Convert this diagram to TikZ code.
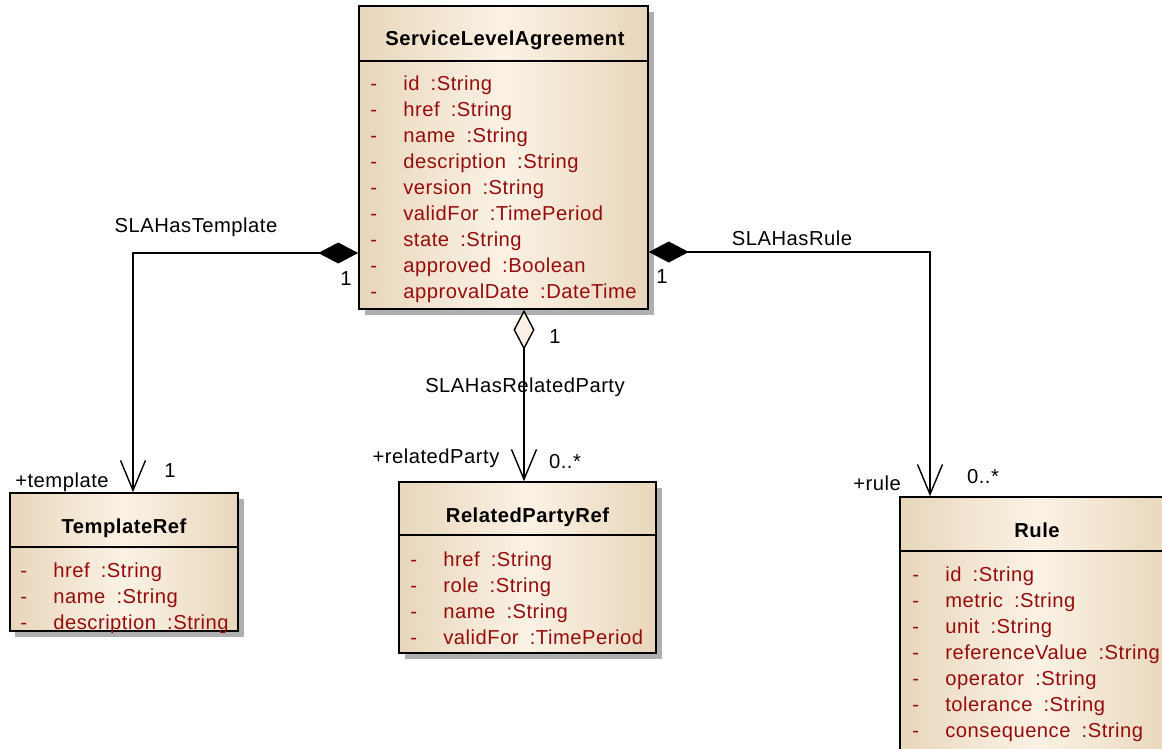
\documentclass[tikz,border=0pt]{standalone}
\usepackage{fontspec}
\setmainfont{Liberation Sans}[LetterSpace=2.5]
\usepackage{xcolor}
\usetikzlibrary{arrows.meta,fit,shadows}
\definecolor{umltan}{RGB}{232,214,187}
\definecolor{umlcream}{RGB}{251,242,229}
\definecolor{attrred}{RGB}{150,12,12}
\definecolor{shadowgrey}{RGB}{175,175,175}
\newcommand{\attr}[2]{#1\hspace{0.55em}:#2}
\tikzset{
  classbox/.style={draw,line width=0.9pt,inner sep=0pt,
    left color=umltan,right color=umltan,middle color=umlcream,
    drop shadow={shadow xshift=0.11cm,shadow yshift=-0.11cm,fill=shadowgrey,opacity=1}},
  classname/.style={anchor=base,inner sep=0pt,font=\fontsize{11.5}{14}\selectfont\bfseries},
  attrdash/.style={anchor=base west,inner sep=0pt,text=attrred},
  attrtext/.style={anchor=base west,inner sep=0pt,text=attrred},
  sepline/.style={line width=0.9pt},
  assoclabel/.style={anchor=base,inner sep=0pt},
  assoc/.style={line width=0.8pt},
  comp/.style={assoc,{Diamond[length=0.8cm,width=0.42cm]}-{Straight Barb[length=0.6cm,width=0.5cm]}},
  aggr/.style={assoc,{Diamond[length=0.8cm,width=0.42cm,fill=umlcream]}-{Straight Barb[length=0.6cm,width=0.5cm]}}
}
\begin{document}
\begin{tikzpicture}[x=0.02cm,y=-0.02cm,font=\fontsize{11.5}{14}\selectfont]
    \useasboundingbox (0,0) rectangle (1162,748);
    \fill[white] (0,0) rectangle (1162,748);
    \clip (0,0) rectangle (1162,748);

    % Classes
    \node[classbox,fit={(359,6) (648,309)}] (sla) {};
    \node[classbox,fit={(10,493) (238,631)}] (tref) {};
    \node[classbox,fit={(399,482) (656,653)}] (rpref) {};
    \node[classbox,fit={(900,497) (1174,764)}] (rule) {};

    \draw[sepline] (sla.west |- 0,61) -- (sla.east |- 0,61);
    \draw[sepline] (tref.west |- 0,547) -- (tref.east |- 0,547);
    \draw[sepline] (rpref.west |- 0,535) -- (rpref.east |- 0,535);
    \draw[sepline] (rule.west |- 0,551) -- (rule.east |- 0,551);

    \node[classname] (sla-name) at (505,45) {ServiceLevelAgreement};
    \node[classname] (tref-name) at (124,533) {TemplateRef};
    \node[classname] (rpref-name) at (527.5,522) {RelatedPartyRef};
    \node[classname] (rule-name) at (1037,537) {Rule};

    % Attributes
    \foreach \n/\t [count=\i from 0] in {id/String,href/String,name/String,
        description/String,version/String,validFor/TimePeriod,state/String,
        approved/Boolean,approvalDate/DateTime} {
        \node[attrdash] (sla-d\i) at (370,90+26*\i) {-};
        \node[attrtext] (sla-a\i) at (403,90+26*\i) {\attr{\n}{\t}};
    }
    \foreach \n/\t [count=\i from 0] in {href/String,name/String,description/String} {
        \node[attrdash] (tref-d\i) at (20,577+26*\i) {-};
        \node[attrtext] (tref-a\i) at (53,577+26*\i) {\attr{\n}{\t}};
    }
    \foreach \n/\t [count=\i from 0] in {href/String,role/String,name/String,validFor/TimePeriod} {
        \node[attrdash] (rpref-d\i) at (410,566+26*\i) {-};
        \node[attrtext] (rpref-a\i) at (443,566+26*\i) {\attr{\n}{\t}};
    }
    \foreach \n/\t [count=\i from 0] in {id/String,metric/String,unit/String,
        referenceValue/String,operator/String,tolerance/String,consequence/String} {
        \node[attrdash] (rule-d\i) at (912,581+26*\i) {-};
        \node[attrtext] (rule-a\i) at (945,581+26*\i) {\attr{\n}{\t}};
    }

    % Associations
    \draw[comp] (sla.west |- 0,253) -| (tref.north -| 133,0);
    \draw[comp] (sla.east |- 0,252) -| (rule.north -| 930,0);
    \draw[aggr] (sla.south -| 524,0) -- (rpref.north -| 524,0);

    \node[assoclabel] (tmpl-lbl) at (196,232) {SLAHasTemplate};
    \node[assoclabel] (tmpl-src) at (346,285) {1};
    \node[assoclabel] (tmpl-role) at (62,487) {+template};
    \node[assoclabel] (tmpl-mult) at (170,477) {1};

    \node[assoclabel] (rule-lbl) at (792,245) {SLAHasRule};
    \node[assoclabel] (rule-src) at (662,283) {1};
    \node[assoclabel] (rule-role) at (877,490) {+rule};
    \node[assoclabel] (rule-mult) at (983,483) {0..*};

    \node[assoclabel] (rp-lbl) at (525,392) {SLAHasRelatedParty};
    \node[assoclabel] (rp-src) at (555,343) {1};
    \node[assoclabel] (rp-role) at (436,463) {+relatedParty};
    \node[assoclabel] (rp-mult) at (565,468) {0..*};
\end{tikzpicture}
\end{document}
